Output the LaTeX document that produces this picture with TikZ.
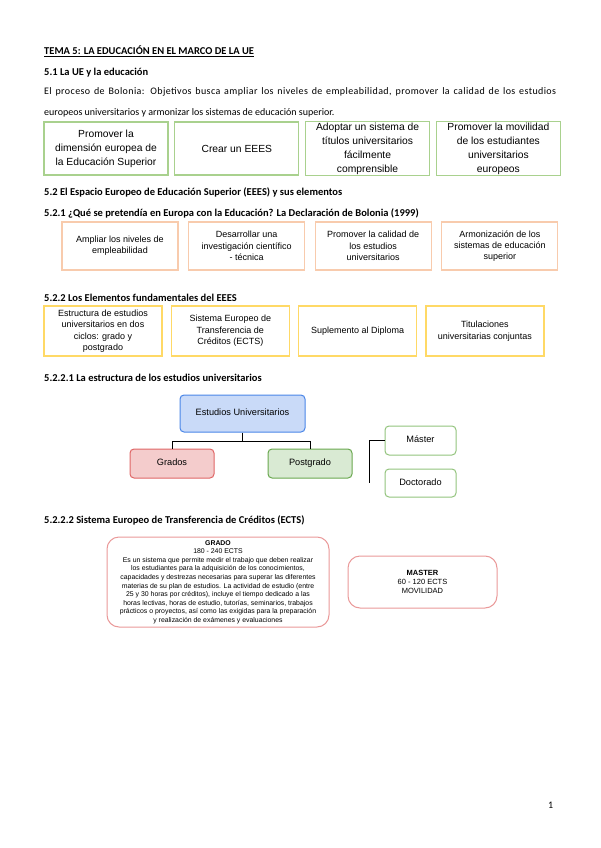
\documentclass[tikz,border=0pt]{standalone}
\usepackage{fontspec}
\setmainfont{Carlito}
\newfontfamily\arialfont{Liberation Sans}
\usetikzlibrary{positioning}
\definecolor{LeafGreen}{HTML}{A9D18E}
\definecolor{SoftOrange}{HTML}{F8CBAD}
\definecolor{SunYellow}{HTML}{FFD966}
\definecolor{SkyBlue}{HTML}{C9DAF8}
\definecolor{EdgeBlue}{HTML}{4A86E8}
\definecolor{PinkFill}{HTML}{F4CCCC}
\definecolor{PinkEdge}{HTML}{E06666}
\definecolor{MintFill}{HTML}{D9EAD3}
\definecolor{MintEdge}{HTML}{6AA84F}
\definecolor{PaleMint}{HTML}{93C47D}
\definecolor{RoseEdge}{HTML}{EA9999}
\tikzset{
  heading/.style={anchor=base west, inner sep=0pt, font=\fontsize{10.5}{12}\selectfont\bfseries},
  plaintext/.style={anchor=base west, inner sep=0pt, font=\fontsize{10}{12}\selectfont},
  greenbox/.style={draw=LeafGreen, line width=1.3pt, align=center, minimum width=124pt, minimum height=53pt, inner sep=1pt, font=\arialfont\fontsize{10.3}{14}\selectfont},
  orangebox/.style={draw=SoftOrange, line width=1.3pt, align=center, minimum width=116pt, minimum height=48pt, inner sep=1pt, font=\arialfont\fontsize{9}{11.3}\selectfont},
  yellowbox/.style={draw=SunYellow, line width=1.3pt, align=center, minimum width=118pt, minimum height=50pt, inner sep=1pt, font=\arialfont\fontsize{9}{11.5}\selectfont},
  treebox/.style={line width=1pt, rounded corners=4pt, align=center, inner sep=1pt, text height=6.8pt, text depth=2pt, font=\arialfont\fontsize{9.2}{10}\selectfont},
  ectsbox/.style={draw=RoseEdge, line width=1pt, rounded corners=12pt, align=center, inner sep=1pt, font=\arialfont\fontsize{6.9}{8.6}\selectfont},
  tree/.style={draw=black, line width=0.9pt}
}

\begin{document}
\begin{tikzpicture}[x=1pt, y=-1pt]
\useasboundingbox[fill=white] (0,0) rectangle (600,848);

% headings and paragraph
\node[heading] (title) at (44,55) {\underline{TEMA 5: LA EDUCACIÓN EN EL MARCO DE LA UE}};
\node[heading] (s51) at (44,76) {5.1 La UE y la educación};
\node[plaintext] (para1) at (44,95) {\addfontfeatures{LetterSpace=4}\makebox[512pt][s]{El proceso de Bolonia: Objetivos busca ampliar los niveles de empleabilidad, promover la calidad de los estudios}};
\node[plaintext] (para2) at (44,116) {europeos universitarios y armonizar los sistemas de educación superior.};

% objetivos
\node[greenbox] (g1) at (106,148.5) {Promover la\\dimensión europea de\\la Educación Superior};
\node[greenbox, right=5.5pt of g1] (g2) {Crear un EEES};
\node[greenbox, right=5.5pt of g2] (g3) {Adoptar un sistema de\\títulos universitarios\\fácilmente\\comprensible};
\node[greenbox, right=5.5pt of g3] (g4) {Promover la movilidad\\de los estudiantes\\universitarios\\europeos};

\node[heading] (s52) at (44,195) {5.2 El Espacio Europeo de Educación Superior (EEES) y sus elementos};
\node[heading] (s521) at (44,216) {5.2.1 ¿Qué se pretendía en Europa con la Educación? La Declaración de Bolonia (1999)};

% declaracion de bolonia
\node[orangebox] (o1) at (120,246) {Ampliar los niveles de\\empleabilidad};
\node[orangebox, right=9.3pt of o1] (o2) {Desarrollar una\\investigación científico\\- técnica};
\node[orangebox, right=9.3pt of o2] (o3) {Promover la calidad de\\los estudios\\universitarios};
\node[orangebox, right=9.3pt of o3] (o4) {Armonización de los\\sistemas de educación\\superior};

\node[heading] (s522) at (44,301) {5.2.2 Los Elementos fundamentales del EEES};

% elementos
\node[yellowbox] (y1) at (103,331) {Estructura de estudios\\universitarios en dos\\ciclos: grado y\\postgrado};
\node[yellowbox, right=8pt of y1] (y2) {Sistema Europeo de\\Transferencia de\\Créditos (ECTS)};
\node[yellowbox, right=8pt of y2] (y3) {Suplemento al Diploma};
\node[yellowbox, right=8pt of y3] (y4) {Titulaciones\\universitarias conjuntas};

\node[heading] (s5221) at (44,381) {5.2.2.1 La estructura de los estudios universitarios};

% arbol de estudios
\node[treebox, draw=EdgeBlue, fill=SkyBlue, minimum width=125pt, minimum height=37pt] (estudios) at (242.5,413.5) {Estudios Universitarios};
\node[treebox, draw=PinkEdge, fill=PinkFill, minimum width=84pt, minimum height=29pt] (grados) at (172,463.5) {Grados};
\node[treebox, draw=MintEdge, fill=MintFill, minimum width=84pt, minimum height=29pt] (postgrado) at (310,463.5) {Postgrado};
\node[treebox, draw=PaleMint, fill=white, minimum width=71pt, minimum height=29pt] (master) at (420.5,440.5) {Máster};
\node[treebox, draw=PaleMint, fill=white, minimum width=71pt, minimum height=28pt] (doctorado) at (420.5,483) {Doctorado};

\draw[tree] (estudios.south) -- ++(0,9) -| (grados.north);
\draw[tree] (estudios.south) ++(0,9) -| (postgrado.north);
\coordinate (bracketend) at (369,483);
\draw[tree] (master.west) -| (bracketend);

\node[heading] (s5222) at (44,523) {5.2.2.2 Sistema Europeo de Transferencia de Créditos (ECTS)};

% ects
\node[ectsbox, minimum width=222pt, minimum height=90pt] (grado) at (218,582) {\textbf{GRADO}\\180 - 240 ECTS\\Es un sistema que permite medir el trabajo que deben realizar\\los estudiantes para la adquisición de los conocimientos,\\capacidades y destrezas necesarias para superar las diferentes\\materias de su plan de estudios. La actividad de estudio (entre\\25 y 30 horas por créditos), incluye el tiempo dedicado a las\\horas lectivas, horas de estudio, tutorías, seminarios, trabajos\\prácticos o proyectos, así como las exigidas para la preparación\\y realización de exámenes y evaluaciones};
\node[ectsbox, minimum width=149pt, minimum height=52pt, font=\arialfont\fontsize{7.5}{9.3}\selectfont] (masterects) at (422.5,582) {\textbf{MASTER}\\60 - 120 ECTS\\MOVILIDAD};

\node[plaintext] (pagenum) at (548,808) {1};
\end{tikzpicture}
\end{document}
